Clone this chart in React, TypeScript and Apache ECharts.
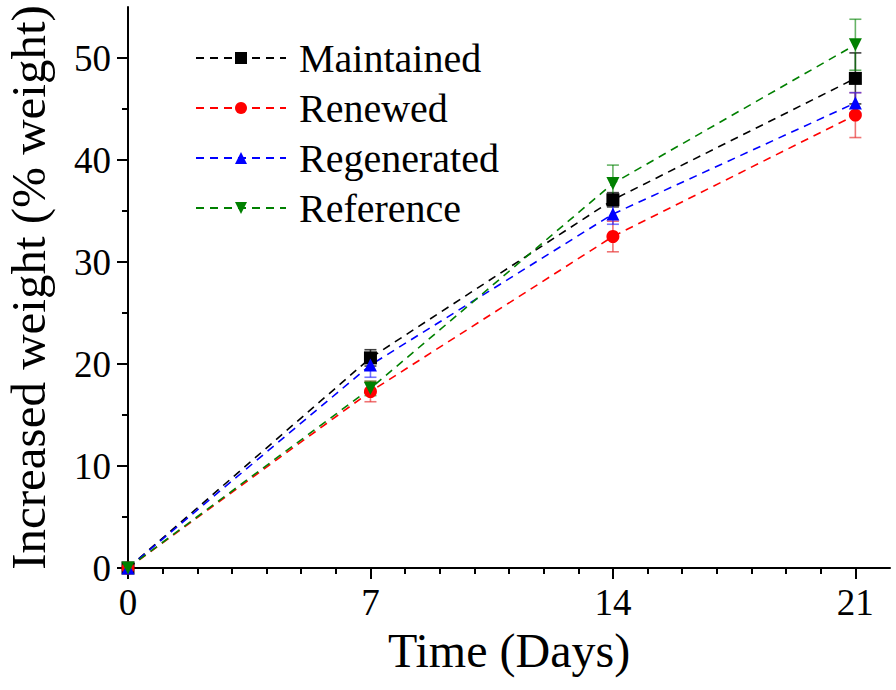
import React, { useEffect, useRef } from 'react';
import * as echarts from 'echarts';

const days = [0, 7, 14, 21];
const seriesNames = ['Maintained', 'Renewed', 'Regenerated', 'Reference'];
const seriesColors = ['#000000', '#ff0000', '#0000ff', '#008000'];
const errColors = ['rgba(0,0,0,0.75)', 'rgba(230,40,40,0.65)', 'rgba(40,40,255,0.65)', 'rgba(0,128,0,0.6)'];
const seriesSymbols = ['rect', 'circle', 'triangle', 'triangle'];
const seriesRotates = [0, 0, 0, 180];

const maintained = [0, 20.6, 36.1, 48.0];
const maintainedErr = [0, 0.8, 0.7, 2.5];
const renewed = [0, 17.3, 32.5, 44.4];
const renewedErr = [0, 1.0, 1.5, 2.2];
const regenerated = [0, 19.9, 34.7, 45.6];
const regeneratedErr = [0, 1.2, 1.0, 1.0];
const reference = [0, 17.6, 37.7, 51.3];
const referenceErr = [0, 0.7, 1.8, 2.5];

const xMajorTicks = [0, 7, 14, 21];
const xMinorTicks = [1, 2, 3, 4, 5, 6, 8, 9, 10, 11, 12, 13, 15, 16, 17, 18, 19, 20];
const yMajorTicks = [0, 10, 20, 30, 40, 50];
const yMinorTicks = [5, 15, 25, 35, 45];

const FONT = '"Liberation Serif", "Times New Roman", serif';

export default function App() {
  const ref = useRef<HTMLDivElement>(null);
  useEffect(() => {
    if (!ref.current) return;
    const chart = echarts.init(ref.current, null, { renderer: 'svg' });
    const values = [maintained, renewed, regenerated, reference];
    const errs = [maintainedErr, renewedErr, regeneratedErr, referenceErr];
    const series: any[] = [];
    values.forEach((vals, i) => {
      const errData = days
        .map((d, j) => [d, vals[j] - errs[i][j], vals[j] + errs[i][j]])
        .filter((p, j) => errs[i][j] > 0);
      const col = errColors[i];
      series.push({
        type: 'custom',
        name: seriesNames[i] + ' error',
        xAxisIndex: 0,
        yAxisIndex: 0,
        silent: true,
        dimensions: ['x', 'lo', 'hi'],
        encode: { x: 0, y: [1, 2] },
        data: errData,
        renderItem: (params: any, api: any) => {
          const x = api.value(0);
          const top = api.coord([x, api.value(2)]);
          const bot = api.coord([x, api.value(1)]);
          const hw = 6;
          const st = { stroke: col, lineWidth: 1.6 };
          return {
            type: 'group',
            children: [
              { type: 'line', shape: { x1: top[0], y1: top[1], x2: bot[0], y2: bot[1] }, style: st },
              { type: 'line', shape: { x1: top[0] - hw, y1: top[1], x2: top[0] + hw, y2: top[1] }, style: st },
              { type: 'line', shape: { x1: bot[0] - hw, y1: bot[1], x2: bot[0] + hw, y2: bot[1] }, style: st },
            ],
          };
        },
      });
      series.push({
        type: 'line',
        name: seriesNames[i],
        xAxisIndex: 0,
        yAxisIndex: 0,
        data: days.map((d, j) => [d, vals[j]]),
        symbol: seriesSymbols[i],
        symbolRotate: seriesRotates[i],
        symbolSize: 13,
        color: seriesColors[i],
        itemStyle: { color: seriesColors[i] },
        lineStyle: { color: seriesColors[i], width: 1.6, type: [8, 6] },
        silent: true,
        clip: false,
      });
    });

    chart.setOption({
      animation: false,
      backgroundColor: '#ffffff',
      grid: { left: 128, right: 6, top: 7, bottom: 122, containLabel: false, outerBoundsMode: 'none' },
      legend: {
        data: seriesNames,
        orient: 'vertical',
        left: 195,
        top: 38,
        padding: 0,
        itemWidth: 90,
        itemHeight: 15,
        itemGap: 10,
        selectedMode: false,
        textStyle: { fontFamily: FONT, fontSize: 40, color: '#000', lineHeight: 40, padding: [0, 0, 0, 8] },
      },
      xAxis: [
        {
          type: 'value',
          min: 0,
          max: 22,
          position: 'bottom',
          name: 'Time (Days)',
          nameLocation: 'middle',
          nameGap: 58,
          nameTextStyle: { fontFamily: FONT, fontSize: 48, color: '#000' },
          axisLine: { show: true, onZero: false, lineStyle: { color: '#000', width: 2 } },
          axisTick: { show: true, inside: false, length: 11, customValues: xMajorTicks, lineStyle: { color: '#000', width: 2 } },
          axisLabel: { show: true, customValues: xMajorTicks, margin: 16, fontFamily: FONT, fontSize: 37, color: '#000' },
          splitLine: { show: false },
        },
        {
          type: 'value',
          min: 0,
          max: 22,
          position: 'bottom',
          gridIndex: 0,
          axisLine: { show: false, onZero: false },
          axisTick: { show: true, inside: false, length: 6, customValues: xMinorTicks, lineStyle: { color: '#000', width: 2 } },
          axisLabel: { show: false },
          splitLine: { show: false },
        },
      ],
      yAxis: [
        {
          type: 'value',
          min: 0,
          max: 55,
          position: 'left',
          name: 'Increased weight (% weight)',
          nameLocation: 'middle',
          nameGap: 75,
          nameTextStyle: { fontFamily: FONT, fontSize: 49, color: '#000' },
          axisLine: { show: true, onZero: false, lineStyle: { color: '#000', width: 2 } },
          axisTick: { show: true, inside: false, length: 11, customValues: yMajorTicks, lineStyle: { color: '#000', width: 2 } },
          axisLabel: { show: true, customValues: yMajorTicks, margin: 17, fontFamily: FONT, fontSize: 37, color: '#000' },
          splitLine: { show: false },
        },
        {
          type: 'value',
          min: 0,
          max: 55,
          position: 'left',
          gridIndex: 0,
          axisLine: { show: false, onZero: false },
          axisTick: { show: true, inside: false, length: 6, customValues: yMinorTicks, lineStyle: { color: '#000', width: 2 } },
          axisLabel: { show: false },
          splitLine: { show: false },
        },
      ],
      series,
    });
    return () => chart.dispose();
  }, []);
  return <div ref={ref} style={{ width: 896, height: 690, position: 'absolute', left: 0, top: 0 }} />;
}
